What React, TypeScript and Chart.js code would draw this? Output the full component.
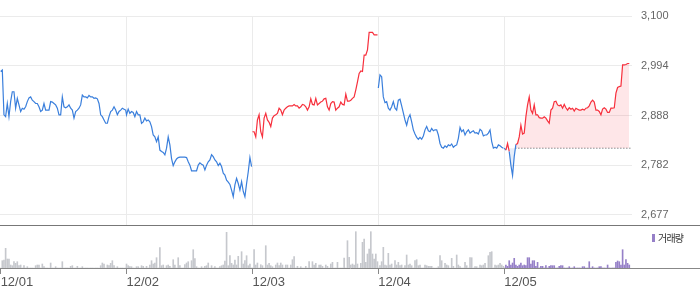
import React, { useEffect, useRef } from 'react';
import { Chart, registerables } from 'chart.js';

Chart.register(...registerables);

// ---- data ----
const dayLabels = ['12/01', '12/02', '12/03', '12/04', '12/05'];
const dayTicks = [0, 1, 2, 3, 4];
const yTickValues = [2677, 2782.75, 2888.5, 2994.25, 3100];
const yTickLabels = ['2,677', '2,782', '2,888', '2,994', '3,100'];
const prevClose = 2819;
const POINT_STEP = 75.5;

const day1 = [2982, 2985, 2890, 2886, 2914, 2886, 2918, 2939, 2939, 2904,
  2925, 2911, 2897, 2904, 2902, 2907, 2918, 2926, 2928, 2921,
  2918, 2914, 2914, 2907, 2897, 2900, 2914, 2900, 2900, 2900,
  2918, 2917, 2914, 2911, 2904, 2890, 2890, 2928, 2907, 2905,
  2907, 2911, 2904, 2900, 2883, 2897, 2900, 2904, 2911, 2932,
  2928, 2928, 2926, 2931, 2928, 2928, 2925, 2926, 2924, 2914,
  2890, 2886, 2879, 2872, 2872, 2886, 2897, 2900, 2907, 2900,
  2890, 2897, 2900, 2904, 2902, 2900];
const day2 = [2890, 2902, 2893, 2897, 2895, 2886, 2897, 2890, 2890, 2872,
  2875, 2883, 2877, 2879, 2875, 2865, 2847, 2843, 2833, 2843,
  2815, 2812, 2810, 2805, 2819, 2843, 2826, 2797, 2782, 2790,
  2796, 2799, 2800, 2800, 2800, 2800, 2799, 2790, 2783, 2771,
  2771, 2771, 2771, 2783, 2788, 2785, 2783, 2773, 2783, 2790,
  2794, 2805, 2801, 2794, 2790, 2782, 2787, 2780, 2766, 2762,
  2751, 2747, 2742, 2730, 2716, 2741, 2755, 2744, 2730, 2748,
  2727, 2716, 2744, 2769, 2799, 2780];
const day3 = [2854, 2854, 2843, 2879, 2890, 2854, 2843, 2883, 2893, 2879,
  2874, 2865, 2883, 2888, 2890, 2893, 2904, 2900, 2890, 2900,
  2904, 2907, 2909, 2909, 2909, 2912, 2909, 2909, 2904, 2907,
  2912, 2911, 2907, 2900, 2907, 2924, 2912, 2911, 2925, 2911,
  2914, 2917, 2919, 2924, 2925, 2907, 2900, 2914, 2918, 2917,
  2900, 2904, 2907, 2917, 2912, 2911, 2934, 2919, 2919, 2921,
  2925, 2928, 2943, 2960, 2978, 2983, 2982, 3017, 3017, 3028,
  3065, 3065, 3065, 3060, 3060, 3060];
const day4 = [2947, 2975, 2971, 2928, 2916, 2918, 2904, 2900, 2907, 2918,
  2904, 2900, 2921, 2923, 2909, 2894, 2879, 2868, 2883, 2890,
  2875, 2858, 2849, 2842, 2838, 2842, 2838, 2845, 2858, 2865,
  2856, 2854, 2861, 2856, 2858, 2858, 2847, 2829, 2821, 2819,
  2824, 2821, 2826, 2824, 2828, 2821, 2824, 2826, 2840, 2863,
  2854, 2858, 2847, 2854, 2858, 2851, 2854, 2856, 2851, 2852,
  2849, 2859, 2856, 2845, 2847, 2847, 2851, 2858, 2833, 2819,
  2821, 2819, 2826, 2824, 2821, 2819];
const day5 = [2819, 2815, 2829, 2812, 2783, 2761, 2801, 2827, 2829, 2843,
  2868, 2849, 2851, 2886, 2911, 2928, 2900, 2893, 2911, 2890,
  2890, 2884, 2883, 2883, 2886, 2883, 2877, 2872, 2900, 2904,
  2918, 2919, 2911, 2909, 2911, 2904, 2912, 2905, 2900, 2905,
  2902, 2904, 2898, 2904, 2902, 2900, 2900, 2902, 2900, 2904,
  2905, 2909, 2917, 2921, 2917, 2900, 2900, 2897, 2890, 2902,
  2905, 2902, 2895, 2895, 2904, 2904, 2905, 2936, 2948, 2950,
  2951, 2996, 2996, 2997, 2999, 2999];

const vol1 = [0, 73, 80, 197, 90, 90, 30, 23, 63, 47,
  63, 23, 30, 0, 23, 0, 13, 0, 0, 0,
  0, 23, 30, 30, 0, 40, 13, 0, 0, 0,
  50, 0, 0, 13, 0, 0, 0, 63, 0, 0,
  0, 0, 17, 23, 0, 0, 17, 0, 0, 13,
  0, 0, 0, 0, 0, 0, 0, 0, 0, 0,
  23, 50, 40, 0, 30, 23, 47, 73, 23, 0,
  13, 0, 0, 0, 0, 0];
const vol2 = [40, 23, 13, 13, 0, 0, 13, 13, 0, 23,
  17, 0, 17, 0, 30, 73, 40, 50, 103, 0,
  203, 23, 30, 0, 23, 30, 17, 0, 83, 30,
  0, 103, 23, 0, 0, 33, 50, 63, 0, 73,
  183, 93, 13, 0, 0, 13, 0, 17, 23, 50,
  0, 23, 0, 13, 0, 0, 13, 23, 30, 70,
  357, 23, 123, 47, 30, 80, 30, 117, 0, 163,
  40, 73, 123, 23, 40, 0];
const vol3 = [0, 183, 30, 50, 0, 33, 23, 0, 223, 30,
  47, 23, 13, 0, 30, 50, 23, 50, 30, 0,
  30, 30, 0, 30, 83, 113, 0, 17, 0, 13,
  0, 0, 17, 0, 63, 0, 63, 30, 47, 0,
  30, 30, 17, 0, 30, 17, 0, 40, 57, 0,
  0, 57, 0, 0, 0, 100, 0, 273, 107, 30,
  40, 30, 363, 40, 0, 47, 257, 290, 57, 140,
  190, 363, 140, 90, 140, 63];
const vol4 = [0, 23, 63, 207, 30, 23, 147, 30, 40, 0,
  73, 30, 57, 23, 30, 0, 23, 130, 30, 40,
  23, 0, 73, 83, 23, 30, 0, 0, 30, 23,
  17, 17, 17, 0, 0, 0, 13, 123, 73, 0,
  47, 30, 23, 0, 97, 17, 0, 130, 30, 13,
  0, 0, 57, 23, 0, 103, 103, 0, 13, 13,
  0, 30, 23, 30, 47, 0, 123, 157, 163, 0,
  30, 23, 30, 47, 30, 17];
const vol5 = [0, 30, 17, 73, 30, 50, 97, 30, 17, 30,
  50, 23, 30, 23, 103, 103, 40, 73, 73, 17,
  57, 0, 17, 17, 0, 23, 0, 17, 23, 23,
  23, 0, 0, 17, 23, 23, 0, 0, 0, 13,
  0, 0, 13, 0, 0, 0, 0, 13, 13, 0,
  0, 63, 0, 13, 0, 0, 0, 13, 13, 0,
  0, 0, 30, 0, 0, 0, 0, 57, 70, 63,
  30, 183, 30, 83, 47, 30];

// ---- axis ranges / styles ----
const X_MIN = -0.005;
const X_MAX = 5.015;
const Y_MIN = 2655.74;
const Y_MAX = 3100;
const VOL_MAX = 420;
const PRICE_W = 632;
const VOL_X_MAX = X_MIN + (X_MAX - X_MIN) * (700 / PRICE_W);

const BLUE = '#3a7fdc';
const RED = '#f7303d';
const PINK_FILL = 'rgba(245, 60, 75, 0.13)';
const BLUE_FILL = 'rgba(58, 127, 220, 0.13)';
const GRID = '#ebebeb';
const VOL_GRAY = '#c6c8cd';
const VOL_PURPLE = '#9680c8';

const pts = (day: number, arr: number[]) =>
  arr.map((v, k) => ({ x: day + k / POINT_STEP, y: v }));

export default function App() {
  const priceRef = useRef<HTMLCanvasElement>(null);
  const volRef = useRef<HTMLCanvasElement>(null);

  useEffect(() => {
    document.body.style.margin = '0';

    // last crossing of the baseline on day 5
    let lastBelow = 0;
    day5.forEach((v, k) => { if (v < prevClose) lastBelow = k; });
    const a = day5[lastBelow];
    const b = day5[lastBelow + 1];
    const frac = (prevClose - a) / (b - a);
    const crossX = 4 + (lastBelow + frac) / POINT_STEP;

    const priceChart = new Chart(priceRef.current!, {
      type: 'line',
      data: {
        datasets: [
          { data: [...pts(0, day1), ...pts(1, day2)], borderColor: BLUE },
          { data: pts(2, day3), borderColor: RED },
          { data: pts(3, day4), borderColor: BLUE },
          {
            data: pts(4, day5),
            borderColor: RED,
            segment: {
              borderColor: (ctx: any) =>
                (ctx.p0.parsed.y + ctx.p1.parsed.y) / 2 >= prevClose ? RED : BLUE,
            },
            fill: { target: { value: prevClose }, above: PINK_FILL, below: BLUE_FILL },
          },
          {
            data: [{ x: crossX, y: prevClose }, { x: X_MAX, y: prevClose }],
            borderColor: '#555',
            borderWidth: 1,
            borderDash: [1, 2],
          },
        ],
      } as any,
      options: {
        responsive: false,
        animation: false,
        layout: { padding: { top: 16, left: 0, right: 0, bottom: 0 } },
        plugins: { legend: { display: false }, tooltip: { enabled: false } },
        elements: { point: { radius: 0 }, line: { borderWidth: 1.2, tension: 0 } },
        scales: {
          x: {
            type: 'linear',
            min: X_MIN,
            max: X_MAX,
            afterBuildTicks: (s: any) => { s.ticks = dayTicks.map((v) => ({ value: v })); },
            ticks: { display: false },
            grid: {
              color: (ctx: any) => (ctx.index === 0 ? 'rgba(0,0,0,0)' : GRID),
              drawTicks: false,
            },
            border: { display: false },
            afterFit: (s: any) => { s.height = 0; s.paddingLeft = 0; s.paddingRight = 0; },
          },
          y: {
            position: 'right',
            min: Y_MIN,
            max: Y_MAX,
            afterBuildTicks: (s: any) => { s.ticks = yTickValues.map((v) => ({ value: v })); },
            ticks: {
              padding: 9,
              color: '#666',
              font: { family: '"Liberation Sans", Arial, sans-serif', size: 11 },
              callback: (_v: any, i: number) => yTickLabels[i],
            },
            grid: { color: GRID, drawTicks: false },
            border: { display: false },
            afterFit: (s: any) => { s.width = 700 - PRICE_W; s.paddingTop = 0; s.paddingBottom = 0; },
          },
        },
      } as any,
    });

    const volChart = new Chart(volRef.current!, {
      type: 'bar',
      data: {
        datasets: [
          {
            data: [...pts(0, vol1), ...pts(1, vol2), ...pts(2, vol3), ...pts(3, vol4)],
            backgroundColor: VOL_GRAY,
          },
          { data: pts(4, vol5), backgroundColor: VOL_PURPLE },
        ],
      } as any,
      options: {
        responsive: false,
        animation: false,
        layout: { padding: 0 },
        datasets: { bar: { barThickness: 1, grouped: false } },
        plugins: { legend: { display: false }, tooltip: { enabled: false } },
        scales: {
          x: {
            type: 'linear',
            min: X_MIN,
            max: VOL_X_MAX,
            offset: false,
            afterBuildTicks: (s: any) => { s.ticks = dayTicks.map((v) => ({ value: v })); },
            ticks: {
              align: 'start',
              padding: 1,
              color: '#555',
              maxRotation: 0,
              autoSkip: false,
              font: { family: '"Liberation Sans Narrow", "Liberation Sans", Arial, sans-serif', size: 13 },
              callback: (_v: any, i: number) => dayLabels[i],
            },
            grid: { offset: false, drawOnChartArea: false, drawTicks: true, tickLength: 6, tickColor: '#888' },
            border: { display: true, color: '#888' },
            afterFit: (s: any) => { s.height = 21; s.paddingLeft = 0; s.paddingRight = 0; },
          },
          y: { display: false, min: 0, max: VOL_MAX },
        },
      } as any,
    });

    return () => {
      priceChart.destroy();
      volChart.destroy();
    };
  }, []);

  return (
    <div style={{ position: 'relative', width: 700, height: 289, background: '#fff', overflow: 'hidden' }}>
      <canvas ref={priceRef} width={700} height={225} style={{ display: 'block' }} />
      <div style={{ height: 1, background: '#777' }} />
      <canvas ref={volRef} width={700} height={63} style={{ display: 'block' }} />
      <div
        style={{
          position: 'absolute', left: 652, top: 232, display: 'flex', alignItems: 'center',
          fontFamily: '"Noto Sans CJK KR", sans-serif', fontSize: 10, color: '#333',
          lineHeight: '11px', letterSpacing: '-0.8px',
        }}
      >
        <span style={{ display: 'inline-block', width: 3, height: 8, background: VOL_PURPLE, marginRight: 3 }} />
        <span>거래량</span>
      </div>
    </div>
  );
}
